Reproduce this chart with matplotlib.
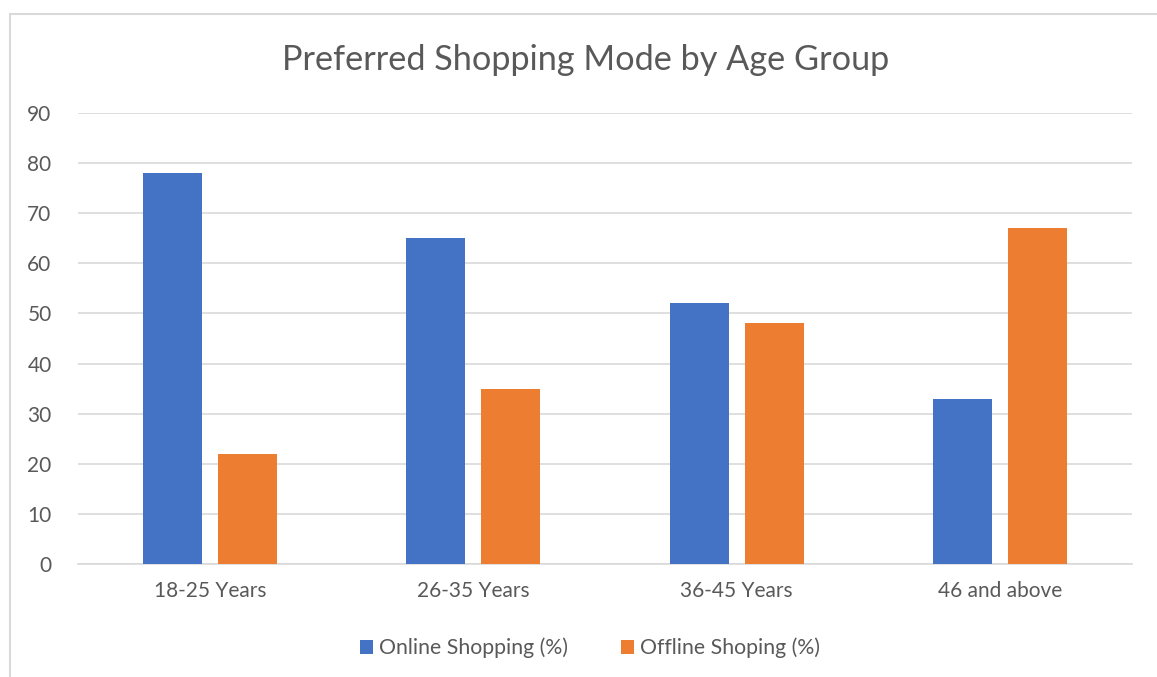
import numpy as np
import matplotlib.pyplot as plt
from matplotlib.patches import Rectangle

age_groups = ['18-25 Years', '26-35 Years', '36-45 Years', '46 and above']
online = [78, 65, 52, 33]
offline = [22, 35, 48, 67]
series_names = ['Online Shopping (%)', 'Offline Shoping (%)']

BLUE = '#4472C4'
ORANGE = '#ED7D31'
TEXT = '#595959'
GRID = '#D9D9D9'

plt.rcParams['font.family'] = ['Lato', 'DejaVu Sans']

W, H = 1157, 677
fig = plt.figure(figsize=(W / 100, H / 100), dpi=100)

# light chart-area frame
fig.patches.append(Rectangle((9.5 / W, -0.1), 1.2, 1 - 14 / H + 0.1,
                             transform=fig.transFigure, fill=False,
                             edgecolor=GRID, linewidth=1.5))

ax = fig.add_axes([78 / W, 1 - 564 / H, (1132 - 78) / W, (564 - 113) / H])

x = np.arange(len(age_groups))
bw = 0.224
off = 0.142
b1 = ax.bar(x - off, online, bw, color=BLUE, label=series_names[0], zorder=3)
b2 = ax.bar(x + off, offline, bw, color=ORANGE, label=series_names[1], zorder=3)

ax.set_xlim(-0.5, len(age_groups) - 0.5)
ax.set_ylim(0, 90)
ax.set_yticks(range(0, 91, 10))
ax.yaxis.grid(True, color=GRID, linewidth=1.2, zorder=0)
ax.set_axisbelow(True)
for s in ['top', 'right', 'left']:
    ax.spines[s].set_visible(False)
ax.spines['bottom'].set_color(GRID)
ax.spines['bottom'].set_linewidth(1.2)

ax.set_xticks(x)
ax.set_xticklabels(age_groups)
ax.tick_params(axis='both', length=0, colors=TEXT, labelsize=15)
ax.tick_params(axis='y', pad=19)
ax.tick_params(axis='x', pad=12)

fig.text(586 / W, 1 - 60 / H, 'Preferred Shopping Mode by Age Group',
         ha='center', va='center', fontsize=24.7, color=TEXT)

fig.legend(handles=[b1, b2], labels=series_names, loc='center',
           bbox_to_anchor=(590 / W, 1 - 648 / H), ncol=2, frameon=False,
           fontsize=15.3, labelcolor=TEXT, handlelength=0.6, handleheight=0.6,
           handletextpad=0.3, columnspacing=2.5)

fig.savefig('out.png', dpi=100, facecolor='white')
